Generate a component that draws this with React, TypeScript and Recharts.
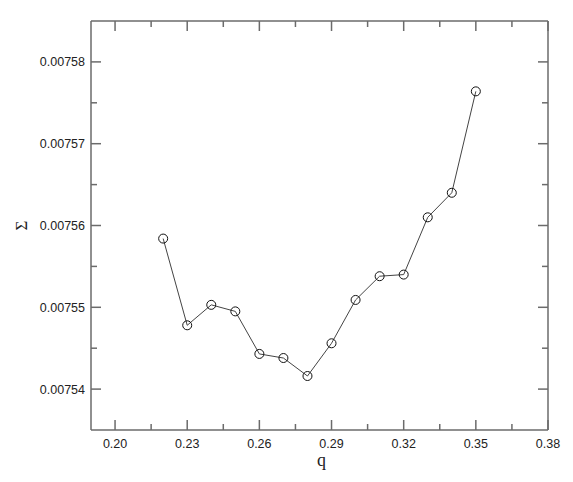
import { Line, LineChart, XAxis, YAxis } from "recharts";

const qValues = [0.22, 0.23, 0.24, 0.25, 0.26, 0.27, 0.28, 0.29, 0.3, 0.31, 0.32, 0.33, 0.34, 0.35];
const sigmaValues = [
  0.0075584, 0.0075478, 0.0075503, 0.0075495, 0.0075443, 0.0075438, 0.0075416, 0.0075456, 0.0075509,
  0.0075538, 0.007554, 0.007561, 0.007564, 0.0075764,
];

const xMajor = [0.2, 0.23, 0.26, 0.29, 0.32, 0.35, 0.38];
const xMinor = [0.215, 0.245, 0.275, 0.305, 0.335, 0.365];
const yMajor = [0.00754, 0.00755, 0.00756, 0.00757, 0.00758];
const yMinor = [0.007545, 0.007555, 0.007565, 0.007575];

const xTicks = [...xMajor, ...xMinor].sort((a, b) => a - b);
const yTicks = [...yMajor, ...yMinor].sort((a, b) => a - b);

const data = qValues.map((q, i) => ({ q, sigma: sigmaValues[i] }));

const AXIS = "#6b6b6b";
const FONT = "'Liberation Sans', Arial, sans-serif";
const SERIF = "'Liberation Serif', 'Times New Roman', serif";
const MAJOR = 10;
const MINOR = 6;

const isMajor = (v: number, list: number[]) => list.some((m) => Math.abs(m - v) < 1e-9);

function BottomTick({ x, y, payload }: any) {
  const major = isMajor(payload.value, xMajor);
  return (
    <g>
      <line x1={x} y1={y} x2={x} y2={y - (major ? MAJOR : MINOR)} stroke={AXIS} strokeWidth={1.5} />
      {major && (
        <text x={x} y={y + 18} textAnchor="middle" fontSize={12.5} fontFamily={FONT} fill="#222">
          {payload.value.toFixed(2)}
        </text>
      )}
    </g>
  );
}

function TopTick({ x, y, payload }: any) {
  const major = isMajor(payload.value, xMajor);
  return <line x1={x} y1={y} x2={x} y2={y + (major ? MAJOR : MINOR)} stroke={AXIS} strokeWidth={1.5} />;
}

function LeftTick({ x, y, payload }: any) {
  const major = isMajor(payload.value, yMajor);
  return (
    <g>
      <line x1={x} y1={y} x2={x + (major ? MAJOR : MINOR)} y2={y} stroke={AXIS} strokeWidth={1.5} />
      {major && (
        <text x={x - 6} y={y + 4.5} textAnchor="end" fontSize={12.5} fontFamily={FONT} fill="#222">
          {payload.value.toFixed(5)}
        </text>
      )}
    </g>
  );
}

function RightTick({ x, y, payload }: any) {
  const major = isMajor(payload.value, yMajor);
  return <line x1={x} y1={y} x2={x - (major ? MAJOR : MINOR)} y2={y} stroke={AXIS} strokeWidth={1.5} />;
}

function OpenCircle({ cx, cy }: any) {
  return <circle cx={cx} cy={cy} r={4.5} fill="none" stroke="#111" strokeWidth={1} />;
}

export default function App() {
  return (
    <div style={{ position: "absolute", left: 0, top: 0, background: "#fff" }}>
      <LineChart width={573} height={482} data={data} margin={{ top: 20, right: 24, left: 0, bottom: 0 }}>
        <XAxis
          xAxisId="bottom"
          dataKey="q"
          type="number"
          domain={[0.19, 0.38]}
          ticks={xTicks}
          interval={0}
          height={52}
          tickSize={0}
          tickMargin={0}
          tickLine={false}
          axisLine={{ stroke: AXIS, strokeWidth: 1.5 }}
          tick={(p: any) => <BottomTick {...p} />}
          allowDataOverflow
        />
        <XAxis
          xAxisId="top"
          orientation="top"
          dataKey="q"
          type="number"
          domain={[0.19, 0.38]}
          ticks={xTicks}
          interval={0}
          height={1}
          tickSize={0}
          tickMargin={0}
          tickLine={false}
          axisLine={{ stroke: AXIS, strokeWidth: 1.5 }}
          tick={(p: any) => <TopTick {...p} />}
          allowDataOverflow
        />
        <YAxis
          yAxisId="left"
          type="number"
          domain={[0.007535, 0.007585]}
          ticks={yTicks}
          interval={0}
          width={91}
          tickSize={0}
          tickMargin={0}
          tickLine={false}
          axisLine={{ stroke: AXIS, strokeWidth: 1.5 }}
          tick={(p: any) => <LeftTick {...p} />}
          allowDataOverflow
        />
        <YAxis
          yAxisId="right"
          orientation="right"
          type="number"
          domain={[0.007535, 0.007585]}
          ticks={yTicks}
          interval={0}
          width={1}
          tickSize={0}
          tickMargin={0}
          tickLine={false}
          axisLine={{ stroke: AXIS, strokeWidth: 1.5 }}
          tick={(p: any) => <RightTick {...p} />}
          allowDataOverflow
        />
        <Line
          xAxisId="bottom"
          yAxisId="left"
          dataKey="sigma"
          stroke="#444"
          strokeWidth={1}
          dot={(p: any) => <OpenCircle key={p.index} {...p} />}
          activeDot={false}
          isAnimationActive={false}
        />
        <text x={321.5} y={466} textAnchor="middle" fontSize={18} fontFamily={SERIF} fill="#222">
          q
        </text>
        <text
          x={21.5}
          y={225.5}
          transform="rotate(-90 21.5 225.5)"
          textAnchor="middle"
          dominantBaseline="central"
          fontSize={17}
          fontFamily={SERIF}
          fill="#222"
        >
          Σ
        </text>
      </LineChart>
    </div>
  );
}
